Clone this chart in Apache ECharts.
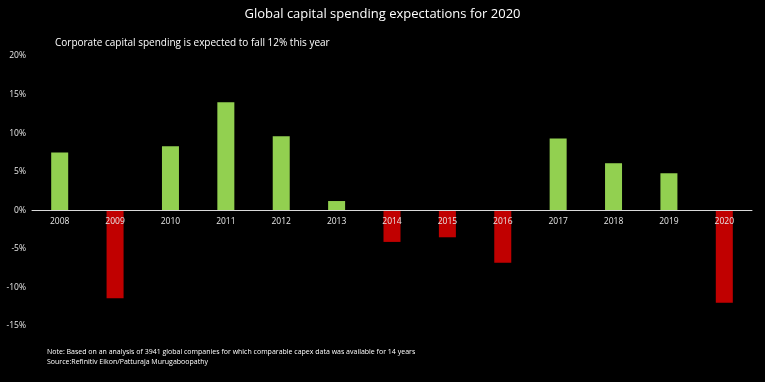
<!DOCTYPE html>
<html><head><meta charset="utf-8">
<script src="https://cdn.jsdelivr.net/npm/echarts@6/dist/echarts.min.js"></script>
<style>html,body{margin:0;padding:0;background:#000}#c{width:765px;height:382px}</style>
</head><body><div id="c"></div>
<script>
const years = ['2008','2009','2010','2011','2012','2013','2014','2015','2016','2017','2018','2019','2020'];
const changes = [7.5, -11.4, 8.3, 14.0, 9.6, 1.2, -4.1, -3.5, -6.8, 9.3, 6.1, 4.8, -12.0];
const yTicks = {min: -15, max: 20, interval: 5};
const titleText = 'Global capital spending expectations for 2020';
const subtitleText = 'Corporate capital spending is expected to fall 12% this year';
const noteLines = ['Note: Based on an analysis of 3941 global companies for which comparable capex data was available for 14 years', 'Source:Refinitiv Eikon/Patturaja Murugaboopathy'];

const W = 765, H = 382, gTop = 56, gBottom = 56;
const plotH = H - gTop - gBottom;
const zeroOffset = -plotH * (0 - yTicks.min) / (yTicks.max - yTicks.min);

const chart = echarts.init(document.getElementById('c'));
const font = '"Open Sans", "Liberation Sans", sans-serif';
chart.setOption({
  backgroundColor: '#000',
  animation: false,
  title: [
    {text: titleText, left: 'center', top: 3, textStyle: {color: '#fff', fontSize: 13, fontWeight: 'normal', fontFamily: font}},
    {text: subtitleText, left: 50, top: 33, textStyle: {color: '#fff', fontSize: 10, fontWeight: 'normal', fontFamily: font}},
    {text: noteLines.join('\n'), left: 42, top: 342, textStyle: {color: '#fff', fontSize: 7, fontWeight: 'normal', fontFamily: font, lineHeight: 10}}
  ],
  grid: {left: 32, right: 13, top: gTop, bottom: gBottom, containLabel: false},
  xAxis: {
    type: 'category', data: years, z: 5, offset: zeroOffset,
    axisLine: {onZero: false, lineStyle: {color: '#d9d9d9', width: 1}},
    axisTick: {show: false},
    axisLabel: {color: '#e6e6e6', fontSize: 8.5, fontFamily: font, margin: 7}
  },
  yAxis: {
    type: 'value', min: yTicks.min, max: yTicks.max, interval: yTicks.interval,
    axisLine: {show: false}, axisTick: {show: false}, splitLine: {show: false},
    axisLabel: {color: '#e6e6e6', fontSize: 8.5, fontFamily: font, formatter: '{value}%', margin: 6}
  },
  series: [{
    type: 'bar', barWidth: 17, z: 2,
    data: changes.map(v => ({value: v, itemStyle: {color: v >= 0 ? '#92d050' : '#c00000'}}))
  }]
});
</script></body></html>
